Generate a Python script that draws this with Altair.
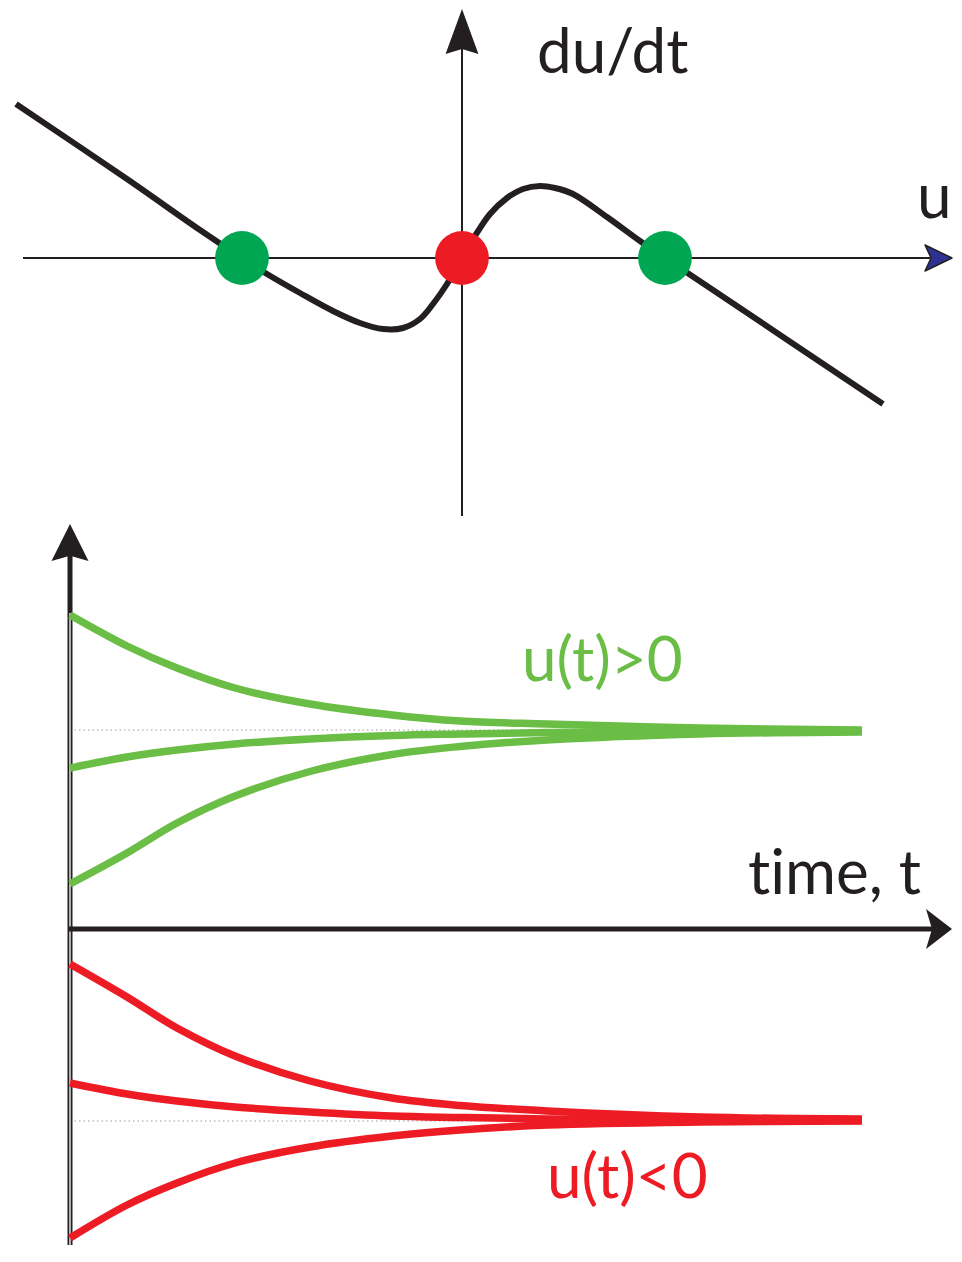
import altair as alt
import pandas as pd

# ---------------- top panel: phase line du/dt = f(u) ----------------
PHASE_U = [-4.46, -3.35, -2.62, -2.20, -1.95, -1.62, -1.29, -1.02, -0.79, -0.59, -0.42, -0.29, -0.15,
           0.00, 0.13, 0.28, 0.45, 0.61, 0.78, 0.93, 1.11, 1.45, 1.78, 2.03, 2.45, 4.21]
PHASE_DUDT = [1.54, 0.79, 0.28, 0.00, -0.16, -0.35, -0.53, -0.65, -0.71, -0.70, -0.61, -0.46, -0.26,
              0.00, 0.22, 0.44, 0.60, 0.69, 0.72, 0.70, 0.64, 0.41, 0.17, 0.00, -0.28, -1.46]
FIXED_U = [-2.20, 0.00, 2.03]
FIXED_KIND = ["stable", "unstable", "stable"]

TOP_U_DOMAIN = [-4.54, 4.92]
TOP_V_DOMAIN = [-2.58, 2.49]

# ---------------- bottom panel: u(t) trajectories ----------------
T = [0.00, 0.57, 1.07, 1.65, 2.40, 3.22, 3.90, 4.77, 6.30, 7.92]
GREEN_1 = [3.14, 2.83, 2.61, 2.41, 2.25, 2.14, 2.08, 2.05, 2.01, 1.99]
GREEN_2 = [1.61, 1.72, 1.79, 1.85, 1.90, 1.935, 1.95, 1.965, 1.975, 1.98]
GREEN_3 = [0.45, 0.76, 1.06, 1.33, 1.575, 1.745, 1.825, 1.89, 1.95, 1.97]
RED_1 = [-0.35, -0.68, -0.99, -1.27, -1.52, -1.69, -1.765, -1.82, -1.88, -1.90]
RED_2 = [-1.54, -1.65, -1.72, -1.78, -1.83, -1.87, -1.885, -1.90, -1.91, -1.915]
RED_3 = [-3.09, -2.76, -2.54, -2.34, -2.18, -2.07, -2.01, -1.96, -1.93, -1.92]
EQ_POS, EQ_NEG = 1.99, -1.92
EQ_GUIDE_END = 4.77

BOT_T_DOMAIN = [-0.62, 8.84]
BOT_U_DOMAIN = [-3.16, 4.13]

INK = "#231f20"
GREEN_LINE = "#6abd45"
GREEN_DOT = "#00a651"
RED = "#ed1c24"
NAVY = "#2e3192"
FONT = "Lato"
FS = 62

ARROW_UP_TALL = "M0,-1 L0.73,1 L0,0.78 L-0.73,1 Z"
ARROW_UP_WIDE = "M0,-1 L1,1 L0,0.72 L-1,1 Z"
ARROW_RIGHT_SMALL = "M1,0 L-1,-0.96 L-0.55,0 L-1,0.96 Z"
ARROW_RIGHT_WIDE = "M0.65,0 L-0.65,-1 L-0.35,0 L-0.65,1 Z"


def tx(field="x"):
    return alt.X(f"{field}:Q", scale=alt.Scale(domain=TOP_U_DOMAIN, nice=False, zero=False), axis=None)


def ty(field="y"):
    return alt.Y(f"{field}:Q", scale=alt.Scale(domain=TOP_V_DOMAIN, nice=False, zero=False), axis=None)


def bx(field="x"):
    return alt.X(f"{field}:Q", scale=alt.Scale(domain=BOT_T_DOMAIN, nice=False, zero=False), axis=None)


def by(field="y"):
    return alt.Y(f"{field}:Q", scale=alt.Scale(domain=BOT_U_DOMAIN, nice=False, zero=False), axis=None)


def label(x, y, text, color, scale_x, scale_y):
    return alt.Chart(pd.DataFrame({"x": [x], "y": [y], "t": [text]})).mark_text(
        align="left", baseline="alphabetic", font=FONT, fontSize=FS, color=color
    ).encode(x=scale_x(), y=scale_y(), text="t:N")


# ----- top panel layers -----
phase_df = pd.DataFrame({"x": PHASE_U, "y": PHASE_DUDT})
fixed_df = pd.DataFrame({"x": FIXED_U, "y": [0.0] * len(FIXED_U), "kind": FIXED_KIND})

top_haxis = alt.Chart(pd.DataFrame({"x": [-4.39], "x2": [4.68], "y": [0.0]})).mark_rule(
    color=INK, strokeWidth=2, clip=True).encode(x=tx(), x2="x2:Q", y=ty())
top_vaxis = alt.Chart(pd.DataFrame({"x": [0.0], "y": [-2.58], "y2": [2.15]})).mark_rule(
    color=INK, strokeWidth=2, clip=True).encode(x=tx(), y=ty(), y2="y2:Q")
top_arrow_up = alt.Chart(pd.DataFrame({"x": [0.0], "y": [2.265]})).mark_point(
    shape=ARROW_UP_TALL, filled=True, color=INK, opacity=1, size=2025, strokeWidth=0
).encode(x=tx(), y=ty())
top_arrow_right = alt.Chart(pd.DataFrame({"x": [4.765], "y": [0.0]})).mark_point(
    shape=ARROW_RIGHT_SMALL, filled=True, fill=NAVY, stroke=INK, strokeWidth=1.5, strokeJoin="round",
    opacity=1, size=729
).encode(x=tx(), y=ty())
phase_line = alt.Chart(phase_df).mark_line(
    color=INK, strokeWidth=6, interpolate="catmull-rom", clip=True
).encode(x=tx(), y=ty(), order="x:Q")
fixed_pts = alt.Chart(fixed_df).mark_circle(size=2890, opacity=1).encode(
    x=tx(), y=ty(),
    color=alt.Color("kind:N", scale=alt.Scale(domain=["stable", "unstable"], range=[GREEN_DOT, RED]), legend=None),
)

top = alt.layer(
    top_haxis, top_vaxis, top_arrow_up, top_arrow_right, phase_line, fixed_pts,
    label(0.75, 1.85, "du/dt", INK, tx, ty),
    label(4.55, 0.40, "u", INK, tx, ty),
).properties(width=946, height=507)

# ----- bottom panel layers -----
rows = []
for name, vals, grp in [("g1", GREEN_1, "pos"), ("g2", GREEN_2, "pos"), ("g3", GREEN_3, "pos"),
                        ("r1", RED_1, "neg"), ("r2", RED_2, "neg"), ("r3", RED_3, "neg")]:
    for t, u in zip(T, vals):
        rows.append({"x": t, "y": u, "curve": name, "grp": grp})
traj_df = pd.DataFrame(rows)

eq_guides = alt.Chart(pd.DataFrame({"x": [0.0, 0.0], "x2": [EQ_GUIDE_END, EQ_GUIDE_END], "y": [EQ_POS, EQ_NEG]})).mark_rule(
    color="#9a9a9a", strokeWidth=1, strokeDash=[1.5, 3], clip=True).encode(x=bx(), x2="x2:Q", y=by())
b_vaxis = alt.Chart(pd.DataFrame({"x": [0.0], "y": [-3.16], "y2": [3.75]})).mark_rule(
    color=INK, strokeWidth=5, clip=True).encode(x=bx(), y=by(), y2="y2:Q")
b_vaxis_gap = alt.Chart(pd.DataFrame({"x": [0.0], "y": [-3.16], "y2": [3.16]})).mark_rule(
    color="white", strokeWidth=1.3, clip=True).encode(x=bx(), y=by(), y2="y2:Q")
b_haxis = alt.Chart(pd.DataFrame({"x": [-0.02], "x2": [8.62], "y": [0.0]})).mark_rule(
    color=INK, strokeWidth=5, clip=True).encode(x=bx(), x2="x2:Q", y=by())
b_arrow_up = alt.Chart(pd.DataFrame({"x": [0.0], "y": [3.865]})).mark_point(
    shape=ARROW_UP_WIDE, filled=True, color=INK, opacity=1, size=1369, strokeWidth=0
).encode(x=bx(), y=by())
b_arrow_right = alt.Chart(pd.DataFrame({"x": [8.69], "y": [0.0]})).mark_point(
    shape=ARROW_RIGHT_WIDE, filled=True, color=INK, opacity=1, size=1600, strokeWidth=0
).encode(x=bx(), y=by())
traj = alt.Chart(traj_df).mark_line(strokeWidth=7.5, interpolate="catmull-rom", clip=True).encode(
    x=bx(), y=by(), detail="curve:N", order="x:Q",
    color=alt.Color("grp:N", scale=alt.Scale(domain=["pos", "neg"], range=[GREEN_LINE, RED]), legend=None),
)

bottom = alt.layer(
    eq_guides, b_vaxis, b_vaxis_gap, b_haxis, b_arrow_up, b_arrow_right, traj,
    label(6.78, 0.35, "t\u200cime, t", INK, bx, by),
    label(4.52, 2.48, "u(t)>0", GREEN_LINE, bx, by),
    label(4.77, -2.69, "u(t)<0", RED, bx, by),
).properties(width=946, height=729)

chart = alt.vconcat(top, bottom, spacing=0).resolve_scale(color="independent").properties(
    padding=0).configure_view(stroke=None)

chart.save("out.html", embed_options={"renderer": "svg", "actions": False})
